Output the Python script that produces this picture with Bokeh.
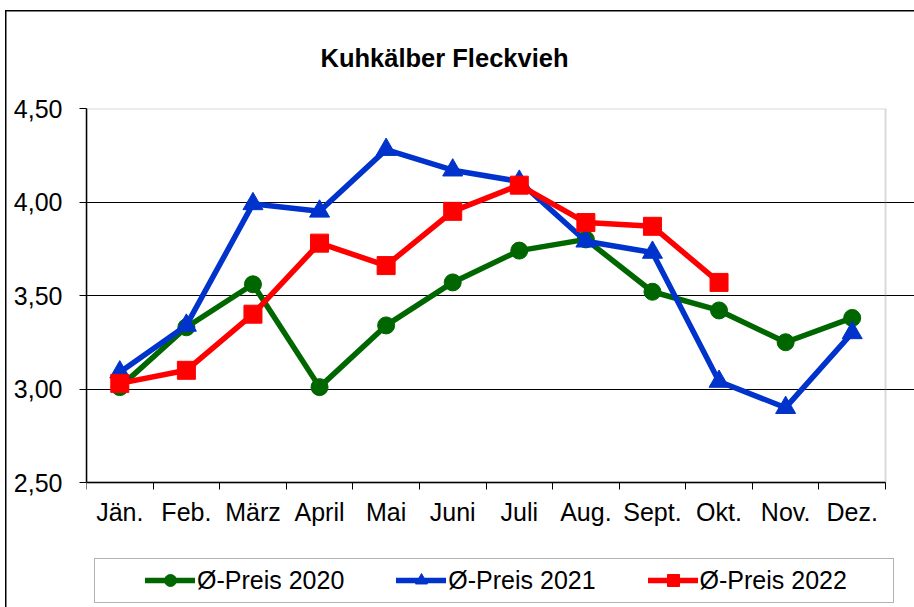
from bokeh.plotting import figure
from bokeh.models import (Range1d, FixedTicker, CustomJSTickFormatter, Legend, LegendItem,
                          ColumnDataSource, Title, BoxAnnotation)
from bokeh.embed import file_html
from bokeh.resources import INLINE

# ---- data ----
months = ["Jän.", "Feb.", "März", "April", "Mai", "Juni", "Juli", "Aug.", "Sept.", "Okt.", "Nov.", "Dez."]
preis_2020 = [3.01, 3.33, 3.56, 3.01, 3.34, 3.57, 3.74, 3.80, 3.52, 3.42, 3.25, 3.38]
preis_2021 = [3.09, 3.34, 3.99, 3.95, 4.28, 4.17, 4.11, 3.79, 3.73, 3.04, 2.90, 3.30]
preis_2022 = [3.03, 3.10, 3.40, 3.78, 3.66, 3.95, 4.09, 3.89, 3.87, 3.57]
series_names = ["Ø-Preis 2020", "Ø-Preis 2021", "Ø-Preis 2022"]
y_ticks = [2.5, 3.0, 3.5, 4.0, 4.5]
grid_ticks = [3.0, 3.5, 4.0]
title_text = "Kuhkälber Fleckvieh"

FONT = "Liberation Sans"
GREEN = "#006600"
BLUE = "#0033CC"
RED = "#FF0000"

# ---- layout (pixels) ----
W, H = 914, 607
PLOT_L, PLOT_R, PLOT_T, PLOT_B = 86, 885, 108, 482   # plot area inside the canvas
n = len(months)
y0, y1 = y_ticks[0], y_ticks[-1]
# the frame runs to the canvas' right and bottom edges so that the legend below the
# plot area is drawn inside it; the ranges are widened so that the plot area keeps its place
x_end = n * (W - PLOT_L) / (PLOT_R - PLOT_L)
y_start = y1 - (y1 - y0) * (H - PLOT_T) / (PLOT_B - PLOT_T)

p = figure(width=W, height=H, output_backend="svg", toolbar_location=None,
           x_range=Range1d(0, x_end), y_range=Range1d(y_start, y1),
           min_border_left=PLOT_L, min_border_right=0, min_border_top=PLOT_T, min_border_bottom=0,
           background_fill_color="white", border_fill_color=None)
p.outline_line_color = None

# outer chart border (left / top edge), drawn by CSS on the host element
p.styles = {"box-shadow": "inset 5px 10px 0 0 white, inset 6.5px 11.5px 0 0 black",
            "background-color": "white"}

# grey plot-area border
p.add_layout(BoxAnnotation(left=0, right=n, bottom=y0, top=y1, level="underlay",
                           fill_color=None, line_color="#808080", line_width=2))

xpos = [i + 0.5 for i in range(n)]

# x axis: labels at centres, ticks between categories
xa = p.xaxis[0]
xa.fixed_location = y0
xa.bounds = (0, n)
xa.ticker = FixedTicker(ticks=xpos, minor_ticks=list(range(n + 1)))
xa.formatter = CustomJSTickFormatter(args=dict(labels=months), code="return labels[Math.floor(tick)];")
xa.major_tick_out = 0
xa.major_tick_in = 0
xa.minor_tick_out = 7
xa.minor_tick_in = 0
xa.minor_tick_line_color = "black"
xa.axis_line_color = "black"
xa.axis_line_width = 1.5
xa.major_label_text_font = FONT
xa.major_label_text_font_size = "25px"
xa.major_label_text_color = "black"
xa.major_label_standoff = 8

ya = p.yaxis[0]
ya.bounds = (y0, y1)
ya.ticker = FixedTicker(ticks=y_ticks)
ya.formatter = CustomJSTickFormatter(code="return tick.toFixed(2).replace('.', ',');")
ya.major_tick_out = 7
ya.major_tick_in = 0
ya.minor_tick_line_color = None
ya.major_tick_line_color = "black"
ya.axis_line_color = "black"
ya.axis_line_width = 1.5
ya.major_label_text_font = FONT
ya.major_label_text_font_size = "25px"
ya.major_label_text_color = "black"
ya.major_label_standoff = 17

p.xgrid.visible = False
p.ygrid.ticker = FixedTicker(ticks=grid_ticks)
p.ygrid.bounds = (0, n)
p.ygrid.grid_line_color = "black"
p.ygrid.grid_line_width = 1

# ---- title ----
p.title = Title(text=title_text, align="left", offset=234, vertical_align="bottom",
                standoff=73, text_font=FONT, text_font_size="25.5px",
                text_font_style="bold", text_color="black")

# ---- series ----
items = []
specs = [(preis_2020, GREEN, "circle", 17),
         (preis_2021, BLUE, "triangle", 20),
         (preis_2022, RED, "square", 18)]
for name, (vals, col, mk, sz) in zip(series_names, specs):
    src = ColumnDataSource(dict(x=xpos[:len(vals)], y=vals))
    rl = p.line("x", "y", source=src, line_color=col, line_width=5.5,
                line_join="round", line_cap="round")
    rm = p.scatter("x", "y", source=src, marker=mk, size=sz,
                   fill_color=col, line_color=col)
    items.append(LegendItem(label=name, renderers=[rl, rm]))

# legend frame
p.add_layout(BoxAnnotation(left=94, right=893, top=558, bottom=602,
                           left_units="canvas", right_units="canvas",
                           top_units="canvas", bottom_units="canvas",
                           fill_color="white", fill_alpha=1,
                           line_color="black", line_width=1))

legend = Legend(items=items, orientation="horizontal", location=(59, 12),
                padding=0, spacing=52, margin=0,
                glyph_width=50, glyph_height=30, label_standoff=2,
                label_text_font=FONT, label_text_font_size="25px", label_text_color="black",
                border_line_color=None, background_fill_alpha=0)
p.add_layout(legend)

open("out.html", "w").write(file_html(p, INLINE))
